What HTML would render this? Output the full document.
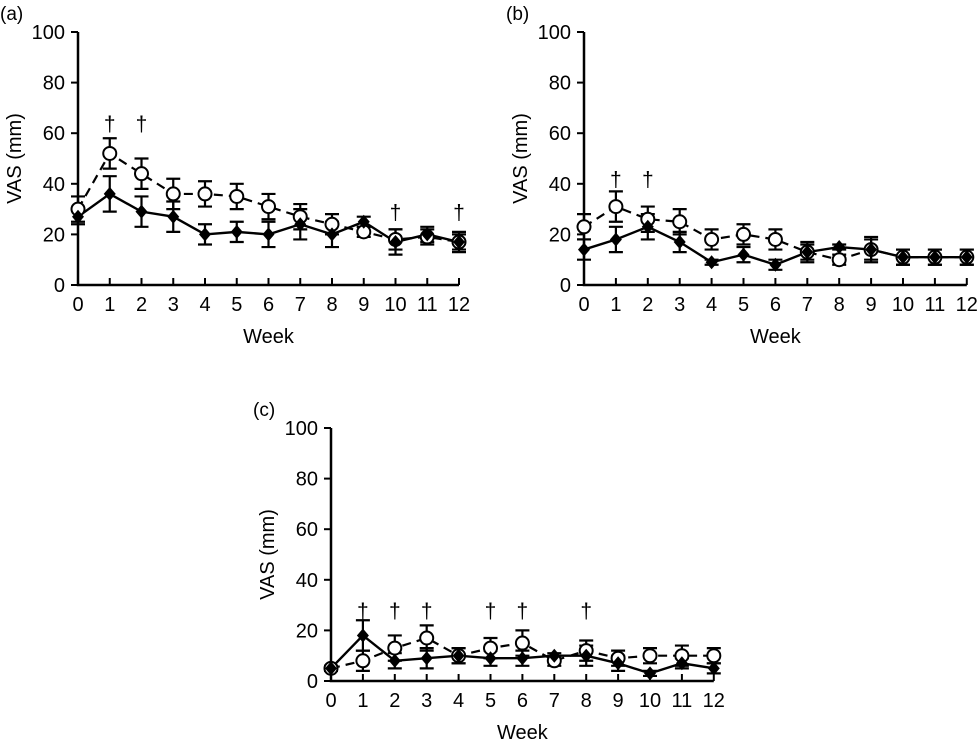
<!DOCTYPE html>
<html><head><meta charset="utf-8">
<style>
body{margin:0;background:#fff;}
svg{display:block;font-family:"Liberation Sans",Arial,sans-serif;}
</style></head>
<body>
<svg id="chart" width="977" height="743" viewBox="0 0 977 743"></svg>
<script>
const weeks=[0,1,2,3,4,5,6,7,8,9,10,11,12];
const yTicks=[0,20,40,60,80,100];
// panel a
const aOpen=[30,52,44,36,36,35,31,27,24,21,18,19,17];
const aOpenErr=[5,6,6,6,5,5,5,5,4,2,4,3,3];
const aFilled=[27,36,29,27,20,21,20,24,20,25,17,20,17];
const aFilledErr=[3,7,6,6,4,4,5,6,5,2,5,3,4];
const aDagger=[1,2,10,12];
const aDaggerVal=[64,64,29,29];
// panel b
const bOpen=[23,31,26,25,18,20,18,13,10,14,11,11,11];
const bOpenErr=[5,6,5,5,4,4,4,3,2,4,3,3,3];
const bFilled=[14,18,23,17,9,12,8,13,15,14,11,11,11];
const bFilledErr=[4,5,5,4,1,3,2,4,1,5,3,3,3];
const bDagger=[1,2];
const bDaggerVal=[42,42];
// panel c
const cOpen=[5,8,13,17,10,13,15,8,12,9,10,10,10];
const cOpenErr=[1,4,5,5,3,4,5,2,4,3,3,4,3];
const cFilled=[5,18,8,9,10,9,9,10,10,7,3,7,5];
const cFilledErr=[1,6,3,4,3,3,3,1,4,3,1,2,2];
const cDagger=[1,2,3,5,6,8];
const cDaggerVal=[28,28,28,28,28,28];

const NS="http://www.w3.org/2000/svg";
const svg=document.getElementById('chart');
function mk(tag,attrs,parent,text){const e=document.createElementNS(NS,tag);for(const k in attrs)e.setAttribute(k,attrs[k]);if(text!==undefined)e.textContent=text;(parent||svg).appendChild(e);return e;}

function panel(id,x0,y0,y100,dx,open,openErr,filled,filledErr,dag,dagVal){
  const g=mk('g',{});
  
  
  const X=w=>x0+w*dx;
  const Y=v=>y0+(y100-y0)*v/100;
  const lab=mk('text',{x:x0-78,y:y100-12,'font-size':19},g,'('+id+')');
  
  
  const ax=mk('path',{d:`M${x0},${Y(100)}V${y0}H${X(12)}`,stroke:'#000','stroke-width':2.5,fill:'none'},g);
  
  
  yTicks.forEach(t=>{
    mk('line',{x1:x0-7,x2:x0,y1:Y(t),y2:Y(t),stroke:'#000','stroke-width':2},g);
    const tl=mk('text',{x:x0-13,y:Y(t)+7,'text-anchor':'end','font-size':20},g,t);
    
    
  });
  weeks.forEach(w=>{
    mk('line',{x1:X(w),x2:X(w),y1:y0,y2:y0-7,stroke:'#000','stroke-width':2},g);
    const tl=mk('text',{x:X(w),y:y0+26,'text-anchor':'middle','font-size':20},g,w);
    
    
  });
  const xt=mk('text',{x:X(6),y:y0+58,'text-anchor':'middle','font-size':20},g,'Week');
  
  
  const yc=(y0+Y(100))/2;
  const yt=mk('text',{x:x0-57,y:yc,'text-anchor':'middle','font-size':20,transform:`rotate(-90 ${x0-57} ${yc})`},g,'VAS (mm)');
  
  
  function err(vals,errs,name){
    vals.forEach((v,i)=>{
      const e=mk('path',{d:`M${X(i)},${Y(v-errs[i])}V${Y(v+errs[i])}M${X(i)-7},${Y(v-errs[i])}h14M${X(i)-7},${Y(v+errs[i])}h14`,stroke:'#000','stroke-width':2.2,fill:'none'},g);
      
      
    });
  }
  err(open,openErr,'placebo');
  err(filled,filledErr,'treatment');
  const lo=mk('polyline',{points:open.map((v,i)=>X(i)+','+Y(v)).join(' '),stroke:'#000','stroke-width':2.2,fill:'none','stroke-dasharray':'9,6'},g);
  
  
  const lf=mk('polyline',{points:filled.map((v,i)=>X(i)+','+Y(v)).join(' '),stroke:'#000','stroke-width':2.4,fill:'none'},g);
  
  
  open.forEach((v,i)=>{
    const c=mk('circle',{cx:X(i),cy:Y(v),r:6.5,fill:'#fff',stroke:'#000','stroke-width':2},g);
    
    
  });
  filled.forEach((v,i)=>{
    const p=mk('path',{d:`M${X(i)},${Y(v)-7}l6,7l-6,7l-6,-7z`,fill:'#000'},g);
    
    
  });
  dag.forEach((w,k)=>{
    const t=mk('text',{x:X(w),y:Y(dagVal[k])+8,'text-anchor':'middle','font-size':21},g,'†');
    
    
  });
}
panel('a',78,285,32,31.75,aOpen,aOpenErr,aFilled,aFilledErr,aDagger,aDaggerVal);
panel('b',584,285,32,31.9,bOpen,bOpenErr,bFilled,bFilledErr,bDagger,bDaggerVal);
panel('c',331,681,428,31.9,cOpen,cOpenErr,cFilled,cFilledErr,cDagger,cDaggerVal);
</script>
</body></html>
